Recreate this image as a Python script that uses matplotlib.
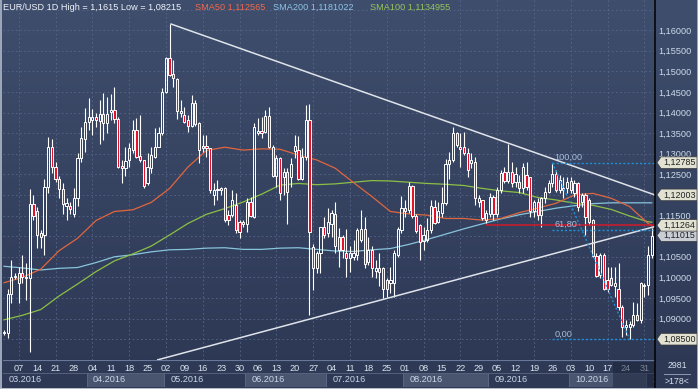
"""EUR/USD 1D candles with SMA lines, trend lines and a Fibonacci retracement"""

import matplotlib
matplotlib.use("Agg")
import matplotlib.pyplot as plt
from matplotlib.colors import LinearSegmentedColormap
from matplotlib.lines import Line2D
from matplotlib.patches import Polygon, Rectangle
import numpy as np
import pandas as pd

# ---- data ----
START, END = "2016-03-01", "2016-11-02"

OPEN = [
    1.0866, 1.0864, 1.0960, 1.1000, 1.0986, 1.1010, 1.1002, 1.0998, 1.1178, 1.1162,
    1.1099, 1.1103, 1.1220, 1.1316, 1.1269, 1.1238, 1.1214, 1.1174, 1.1173, 1.1155,
    1.1192, 1.1289, 1.1335, 1.1378, 1.1382, 1.1389, 1.1380, 1.1397, 1.1374, 1.1402,
    1.1406, 1.1384, 1.1271, 1.1265, 1.1285, 1.1309, 1.1358, 1.1295, 1.1285, 1.1228,
    1.1265, 1.1293, 1.1317, 1.1350, 1.1451, 1.1532, 1.1494, 1.1481, 1.1398, 1.1394,
    1.1382, 1.1367, 1.1424, 1.1374, 1.1313, 1.1319, 1.1313, 1.1200, 1.1211, 1.1216,
    1.1216, 1.1151, 1.1151, 1.1176, 1.1135, 1.1135, 1.1130, 1.1184, 1.1147, 1.1351,
    1.1356, 1.1354, 1.1392, 1.1317, 1.1246, 1.1291, 1.1244, 1.1257, 1.1244, 1.1308,
    1.1309, 1.1238, 1.1293, 1.1382, 1.1073, 1.1022, 1.1058, 1.1122, 1.1107, 1.1130,
    1.1154, 1.1099, 1.1097, 1.1060, 1.1046, 1.1050, 1.1054, 1.1091, 1.1117, 1.1038,
    1.1067, 1.1016, 1.1022, 1.1024, 1.0994, 1.0986, 1.0986, 1.1054, 1.1115, 1.1168,
    1.1164, 1.1222, 1.1149, 1.1127, 1.1089, 1.1091, 1.1115, 1.1172, 1.1135, 1.1157,
    1.1181, 1.1275, 1.1285, 1.1350, 1.1317, 1.1316, 1.1301, 1.1277, 1.1281, 1.1184,
    1.1188, 1.1139, 1.1155, 1.1196, 1.1154, 1.1212, 1.1257, 1.1235, 1.1257, 1.1232,
    1.1232, 1.1216, 1.1249, 1.1244, 1.1160, 1.1184, 1.1151, 1.1192, 1.1208, 1.1228,
    1.1251, 1.1212, 1.1216, 1.1216, 1.1235, 1.1204, 1.1230, 1.1184, 1.1200, 1.1188,
    1.1139, 1.1052, 1.1006, 1.1054, 1.0994, 1.0998, 1.0978, 1.0973, 1.0927, 1.0880,
    1.0880, 1.0884, 1.0909, 1.0897, 1.0978, 1.0982, 1.1054,
]
HIGH = [
    1.0872, 1.0971, 1.1042, 1.1010, 1.1026, 1.1054, 1.1034, 1.1214, 1.1200, 1.1172,
    1.1115, 1.1238, 1.1340, 1.1335, 1.1281, 1.1245, 1.1228, 1.1192, 1.1184, 1.1216,
    1.1301, 1.1366, 1.1410, 1.1435, 1.1408, 1.1398, 1.1431, 1.1448, 1.1439, 1.1445,
    1.1463, 1.1390, 1.1285, 1.1316, 1.1325, 1.1382, 1.1386, 1.1394, 1.1285, 1.1301,
    1.1317, 1.1362, 1.1366, 1.1459, 1.1536, 1.1615, 1.1528, 1.1483, 1.1431, 1.1414,
    1.1394, 1.1443, 1.1431, 1.1376, 1.1346, 1.1346, 1.1315, 1.1228, 1.1236, 1.1220,
    1.1220, 1.1164, 1.1212, 1.1204, 1.1139, 1.1139, 1.1192, 1.1196, 1.1374, 1.1386,
    1.1390, 1.1406, 1.1413, 1.1321, 1.1297, 1.1293, 1.1265, 1.1265, 1.1289, 1.1346,
    1.1343, 1.1313, 1.1418, 1.1422, 1.1080, 1.1065, 1.1123, 1.1147, 1.1168, 1.1164,
    1.1184, 1.1119, 1.1103, 1.1117, 1.1075, 1.1091, 1.1119, 1.1164, 1.1146, 1.1099,
    1.1075, 1.1042, 1.1058, 1.1026, 1.0998, 1.1026, 1.1067, 1.1123, 1.1198, 1.1188,
    1.1232, 1.1224, 1.1154, 1.1130, 1.1123, 1.1143, 1.1188, 1.1188, 1.1184, 1.1220,
    1.1287, 1.1305, 1.1366, 1.1354, 1.1350, 1.1354, 1.1313, 1.1301, 1.1293, 1.1200,
    1.1188, 1.1164, 1.1204, 1.1200, 1.1220, 1.1261, 1.1269, 1.1324, 1.1281, 1.1269,
    1.1249, 1.1277, 1.1281, 1.1244, 1.1188, 1.1192, 1.1196, 1.1220, 1.1236, 1.12785,
    1.1261, 1.1249, 1.1244, 1.1244, 1.1244, 1.1236, 1.1232, 1.1204, 1.1204, 1.1192,
    1.1141, 1.1058, 1.1058, 1.1058, 1.1026, 1.1026, 1.1026, 1.1034, 1.0933, 1.0897,
    1.0893, 1.0941, 1.0937, 1.0990, 1.0986, 1.1075, 1.1121,
]
LOW = [
    1.0860, 1.0852, 1.0937, 1.0996, 1.0937, 1.0986, 1.0945, 1.0820, 1.1140, 1.1071,
    1.1071, 1.1054, 1.1204, 1.1253, 1.1232, 1.1192, 1.1155, 1.1139, 1.1155, 1.1147,
    1.1173, 1.1281, 1.1305, 1.1358, 1.1346, 1.1366, 1.1324, 1.1334, 1.1350, 1.1382,
    1.1374, 1.1265, 1.1230, 1.1245, 1.1269, 1.1301, 1.1289, 1.1281, 1.1216, 1.1224,
    1.1253, 1.1289, 1.1316, 1.1346, 1.1447, 1.1488, 1.1463, 1.1384, 1.1390, 1.1374,
    1.1354, 1.1366, 1.1367, 1.1278, 1.1305, 1.1293, 1.1204, 1.1176, 1.1188, 1.1200,
    1.1135, 1.1127, 1.1147, 1.1107, 1.1095, 1.1123, 1.1111, 1.1147, 1.1143, 1.1346,
    1.1338, 1.1350, 1.1313, 1.1243, 1.1220, 1.1188, 1.1200, 1.1130, 1.1220, 1.1291,
    1.1236, 1.1236, 1.1285, 1.0909, 1.0969, 1.1010, 1.1010, 1.1095, 1.1099, 1.1099,
    1.1058, 1.1026, 1.1046, 1.1002, 1.1014, 1.1042, 1.1042, 1.1087, 1.1022, 1.1030,
    1.1002, 1.0998, 1.0978, 1.0949, 1.0953, 1.0961, 1.0953, 1.1050, 1.1107, 1.1147,
    1.1156, 1.1143, 1.1107, 1.1042, 1.1067, 1.1087, 1.1107, 1.1130, 1.1131, 1.1147,
    1.1176, 1.1238, 1.1281, 1.1317, 1.1269, 1.1297, 1.1244, 1.1265, 1.1176, 1.1172,
    1.1139, 1.1131, 1.1147, 1.1139, 1.1147, 1.1204, 1.1228, 1.1228, 1.1220, 1.1220,
    1.1204, 1.1204, 1.1212, 1.1147, 1.1147, 1.1139, 1.1123, 1.1180, 1.1204, 1.1220,
    1.1208, 1.1204, 1.1192, 1.1204, 1.1204, 1.1196, 1.1160, 1.1172, 1.1103, 1.1127,
    1.1050, 1.1002, 1.0998, 1.0969, 1.0965, 1.0978, 1.0953, 1.0921, 1.0856, 1.0860,
    1.0850, 1.0880, 1.0893, 1.0889, 1.0953, 1.0957, 1.1046,
]
CLOSE = [
    1.0868, 1.0960, 1.1002, 1.1004, 1.1010, 1.1002, 1.0998, 1.1178, 1.1150, 1.1103,
    1.1107, 1.1220, 1.1316, 1.1269, 1.1238, 1.1214, 1.1178, 1.1180, 1.1165, 1.1192,
    1.1289, 1.1338, 1.1378, 1.1389, 1.1390, 1.1382, 1.1397, 1.1374, 1.1397, 1.1406,
    1.1384, 1.1269, 1.1265, 1.1283, 1.1313, 1.1358, 1.1293, 1.1285, 1.1222, 1.1269,
    1.1297, 1.1317, 1.1350, 1.1451, 1.1532, 1.1491, 1.1483, 1.1405, 1.1405, 1.1378,
    1.1367, 1.1424, 1.1372, 1.1309, 1.1319, 1.1313, 1.1212, 1.1212, 1.1214, 1.1212,
    1.1139, 1.1139, 1.1188, 1.1115, 1.1111, 1.1130, 1.1184, 1.1149, 1.1366, 1.1356,
    1.1351, 1.1392, 1.1317, 1.1246, 1.1289, 1.1206, 1.1257, 1.1208, 1.1275, 1.1319,
    1.1238, 1.1293, 1.1382, 1.1111, 1.1022, 1.1058, 1.1122, 1.1103, 1.1135, 1.1157,
    1.1075, 1.1067, 1.1067, 1.1046, 1.1058, 1.1058, 1.1115, 1.1117, 1.1033, 1.1067,
    1.1022, 1.1022, 1.1014, 1.0973, 1.0973, 1.0994, 1.1058, 1.1117, 1.1168, 1.1160,
    1.1222, 1.1149, 1.1113, 1.1087, 1.1103, 1.1115, 1.1173, 1.1133, 1.1160, 1.1181,
    1.1275, 1.1285, 1.1350, 1.1321, 1.1311, 1.1301, 1.1261, 1.1285, 1.1192, 1.1192,
    1.1143, 1.1157, 1.1196, 1.1154, 1.1212, 1.1253, 1.1235, 1.1257, 1.1228, 1.1251,
    1.1216, 1.1269, 1.1220, 1.1160, 1.1184, 1.1151, 1.1192, 1.1208, 1.1228, 1.1251,
    1.1212, 1.1236, 1.1211, 1.1232, 1.1212, 1.1228, 1.1172, 1.1200, 1.1147, 1.1135,
    1.1052, 1.1003, 1.1054, 1.0971, 1.0971, 1.0982, 1.0986, 1.0927, 1.0880, 1.0884,
    1.0887, 1.0909, 1.0897, 1.0986, 1.0982, 1.1054, 1.11015,
]

# moving averages, read every 5 bars
MA_BARS = list(range(0, 176, 5)) + [176]
SMA50 = [
    1.0987, 1.1000, 1.1020, 1.1065, 1.1095, 1.1138, 1.1160, 1.1164, 1.1182, 1.1216,
    1.1268, 1.1308, 1.1316, 1.1309, 1.1312, 1.1311, 1.1297, 1.1285, 1.1265, 1.1230,
    1.1196, 1.1160, 1.1154, 1.1151, 1.1143, 1.1143, 1.1139, 1.1143, 1.1157, 1.1168,
    1.1180, 1.1200, 1.1204, 1.1192, 1.1172, 1.1131, 1.1126,
]
SMA100 = [
    1.0897, 1.0908, 1.0922, 1.0955, 1.0984, 1.1014, 1.1040, 1.1057, 1.1076, 1.1103,
    1.1131, 1.1153, 1.1167, 1.1183, 1.1202, 1.1224, 1.1228, 1.1225, 1.1227, 1.1231,
    1.1235, 1.1234, 1.1231, 1.1228, 1.1226, 1.1223, 1.1216, 1.1210, 1.1206, 1.1194,
    1.1188, 1.1180, 1.1175, 1.1165, 1.1149, 1.1135, 1.1134,
]
SMA200 = [
    1.1027, 1.1023, 1.1018, 1.1022, 1.1024, 1.1036, 1.1050, 1.1055, 1.1062, 1.1067,
    1.1068, 1.1071, 1.1072, 1.1068, 1.1068, 1.1071, 1.1072, 1.1068, 1.1064, 1.1063,
    1.1067, 1.1070, 1.1080, 1.1092, 1.1105, 1.1118, 1.1130, 1.1142, 1.1152, 1.1160,
    1.1168, 1.1174, 1.1179, 1.1181, 1.1181, 1.1181, 1.1181,
]

# drawn objects: (bar, price) anchors
TREND_UPPER = [(45.4, 1.1615), (176.9, 1.1200)]
TREND_LOWER = [(41.8, 1.0800), (176.9, 1.11235)]
RED_LINE = (131, 1.11264)
FIB_HIGH = (149, 1.12785)
FIB_LOW = (170, 1.0850)
FIB_LEVELS = [100.0, 61.8, 0.0]

# axis prices that stay visible (the others sit under the tags)
PRICE_LABELS = [1.090, 1.095, 1.100, 1.105, 1.115, 1.125, 1.130, 1.135, 1.140,
                1.145, 1.150, 1.155, 1.160]
TAGS = [(1.12785, "1,12785"), (1.12003, "1,12003"), (1.11015, "1,11015"),
        (1.11264, "1,11264"), (1.08500, "1,08500")]

TITLE = "EUR/USD 1D High = 1,1615 Low = 1,08215"
LEGEND = [("SMA50 1,112565", "#f0684a", 195), ("SMA200 1,1181022", "#8cc4e6", 273),
          ("SMA100 1,1134955", "#94c65a", 370)]
CORNER = ("2981", ">178<")

# ---- figure ----
plt.rcParams["font.family"] = ["Liberation Sans", "DejaVu Sans"]
FS = 6.6
W, H = 698, 389
fig = plt.figure(figsize=(W / 100, H / 100), dpi=100)
fig.patch.set_facecolor("#2e3955")


def fbox(x0, y0, x1, y1):
    """pixel box (origin top-left) -> figure rect"""
    return [x0 / W, 1 - y1 / H, (x1 - x0) / W, (y1 - y0) / H]


bg = fig.add_axes([0, 0, 1, 1], zorder=-10)
cmap = LinearSegmentedColormap.from_list("bg", ["#3f4e6d", "#2c3753"])
bg.imshow(np.linspace(0, 1, 256)[:, None], aspect="auto", cmap=cmap, extent=[0, 1, 0, 1])
bg.axis("off")

dates = pd.bdate_range(START, END)
n = len(OPEN)
idx = np.arange(n)
o, h, l, c = (np.array(a) for a in (OPEN, HIGH, LOW, CLOSE))

ax = fig.add_axes(fbox(3, 0, 655, 360))
ax.set_facecolor("none")
ax.set_xlim(-0.27, n - 0.1)
ax.set_ylim(1.07995, 1.16733)
for s in ax.spines.values():
    s.set_visible(False)
ax.set_xticks([])

# grid
grid_kw = dict(color="#56678a", lw=0.6, ls=(0, (2, 3)), zorder=0)
for lvl in np.arange(1.085, 1.1651, 0.005):
    ax.axhline(lvl, **grid_kw)
mondays = [i for i, d in enumerate(dates) if d.weekday() == 0]
for i in mondays[::2]:
    ax.axvline(i, **grid_kw)

# price axis
ax.yaxis.tick_right()
ax.set_yticks(PRICE_LABELS)
ax.set_yticklabels([f"{t:.5f}".replace(".", ",") for t in PRICE_LABELS])
ax.tick_params(axis="y", length=0, pad=2.5, labelsize=FS, labelcolor="#cddbeb")

# moving averages
ax.plot(MA_BARS, SMA200, color="#88c4dc", lw=0.9, zorder=2)
ax.plot(MA_BARS, SMA100, color="#8cbf45", lw=0.9, zorder=2)
ax.plot(MA_BARS, SMA50, color="#e0663e", lw=0.9, zorder=2)

# candles
top, bot = np.maximum(o, c), np.minimum(o, c)
ax.vlines(idx, top, h, color="white", lw=0.8, zorder=3)
ax.vlines(idx, l, bot, color="white", lw=0.8, zorder=3)
up = c >= o
ax.bar(idx[up], (top - bot)[up], bottom=bot[up], width=0.6, facecolor="none",
       edgecolor="white", lw=0.7, zorder=4)
ax.bar(idx[~up], (top - bot)[~up], bottom=bot[~up], width=0.6, facecolor="#e3132c",
       edgecolor="white", lw=0.7, zorder=4)

# trend lines and the red level
for (x0, y0), (x1, y1) in (TREND_UPPER, TREND_LOWER):
    ax.plot([x0, x1], [y0, y1], color="#dfe3ea", lw=1.1, zorder=5)
ax.hlines(RED_LINE[1], RED_LINE[0], n - 0.1, color="#d21a2a", lw=1.1, zorder=5)

# fibonacci
fib_c = "#1f8fd6"
ax.plot([FIB_HIGH[0], FIB_LOW[0]], [FIB_HIGH[1], FIB_LOW[1]], color=fib_c, lw=1.0,
        ls=(0, (1.5, 1.5)), zorder=5)
for pct in FIB_LEVELS:
    lvl = FIB_LOW[1] + (FIB_HIGH[1] - FIB_LOW[1]) * pct / 100
    ax.hlines(lvl, FIB_HIGH[0], n - 0.1, color=fib_c, lw=1.0, linestyles=(0, (1.5, 1.5)),
              zorder=5)
    ax.text(FIB_HIGH[0] + 0.6, lvl + 0.0002, f"{pct:.2f}".replace(".", ","),
            color="#a4bedc", fontsize=FS, va="bottom", ha="left", zorder=6)

# bottom date strip
fig.add_artist(Rectangle((0, 0), 1, 1 - 360 / H, transform=fig.transFigure,
                         fc="#2e3955", ec="none", zorder=-5))
axb = fig.add_axes(fbox(3, 360, 655, 387))
axb.set_xlim(ax.get_xlim())
axb.set_ylim(27, 0)
axb.set_facecolor("#2e3955")
axb.set_xticks([])
axb.set_yticks([])
for s in axb.spines.values():
    s.set_visible(False)
axb.axhline(0.4, color="#68779a", lw=0.8)

starts = [i for i in range(n) if i == 0 or dates[i].month != dates[i - 1].month]
edges = starts + [n + 3]
for k, s in enumerate(starts):
    fc = "#49556f" if k % 2 == 1 else "none"
    axb.add_patch(Rectangle((s - 0.45, 13), edges[k + 1] - s, 14, fc=fc,
                            ec="#5b6783", lw=0.6, zorder=1))
    axb.text(s + 1.2, 20, dates[s].strftime("%m.%Y"), color="#cad6e6", fontsize=FS,
             va="center", ha="left", zorder=2, clip_on=True)
for i in mondays:
    axb.text(i, 8.3, f"{dates[i].day:02d}", color="#dbe5f1", fontsize=FS,
             va="center", ha="center", zorder=2, clip_on=True)
axb.add_patch(Rectangle((165.5, 1.5), n - 0.1 - 165.5, 26, fc="#1b2338", alpha=0.5,
                        ec="none", zorder=3))

# corner panel
fig.text(677 / W, 1 - 366 / H, CORNER[0], ha="center", va="center", fontsize=6.3,
         color="#d6e0ee")
fig.text(677 / W, 1 - 381.5 / H, CORNER[1], ha="center", va="center", fontsize=6.3,
         color="#d6e0ee")
fig.add_artist(Line2D([664 / W, 690 / W], [1 - 373.5 / H] * 2, color="#8a98b0", lw=0.7))

# price tags on the right axis
for k, (val, txt) in enumerate(TAGS):
    y = H - ax.transData.transform((0, val))[1]
    pts = [(657, y), (661, y - 5.8), (697, y - 5.8), (697, y + 5.8), (661, y + 5.8)]
    fc = "#c9cdd6" if val == CLOSE[-1] else "#e2e2d2"
    fig.add_artist(Polygon([(px / W, 1 - py / H) for px, py in pts], closed=True,
                           fc=fc, ec="#3a3a3a", lw=0.5, transform=fig.transFigure,
                           zorder=10 + k))
    fig.text(663 / W, 1 - y / H, txt, fontsize=6.4, color="#202020", va="center",
             zorder=10.5 + k)

# separators and frame
fig.add_artist(Line2D([655 / W] * 2, [0, 1], color="black", lw=1.1, zorder=30))
for box, col in ((fbox(0, 0, 2, 389), "#9ba7b9"), (fbox(0, 387.5, 698, 389), "#b4bcc8"),
                 (fbox(696.5, 0, 698, 389), "#9ba7b9")):
    fig.add_artist(Rectangle(box[:2], box[2], box[3], transform=fig.transFigure,
                             fc=col, ec="none", zorder=31))

# title line
fig.text(3 / W, 1 - 7 / H, TITLE, color="#eef3f9", fontsize=FS, va="center")
for txt, col, x in LEGEND:
    fig.text(x / W, 1 - 7 / H, txt, color=col, fontsize=FS, va="center")

fig.savefig("out.png", dpi=100, facecolor=fig.get_facecolor())
